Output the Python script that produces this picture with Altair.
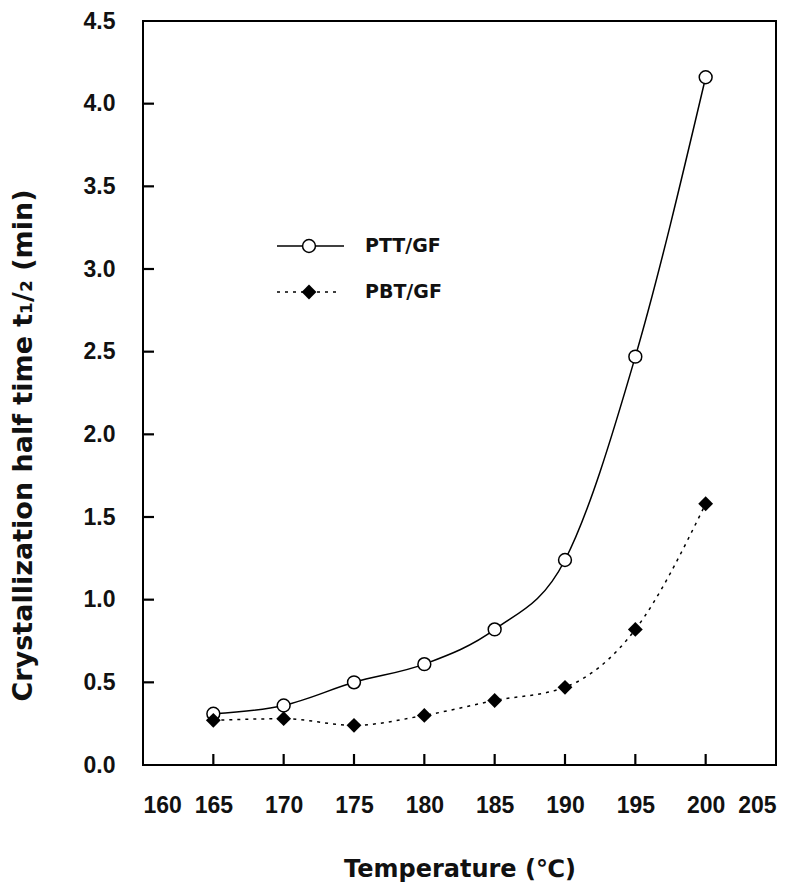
import altair as alt
import pandas as pd

# ---- data ----
temps = [165, 170, 175, 180, 185, 190, 195, 200]
ptt_gf = [0.31, 0.36, 0.50, 0.61, 0.82, 1.24, 2.47, 4.16]
pbt_gf = [0.27, 0.28, 0.24, 0.30, 0.39, 0.47, 0.82, 1.58]
series_names = ["PTT/GF", "PBT/GF"]
x_tick_values = [160, 165, 170, 175, 180, 185, 190, 195, 200, 205]
y_tick_values = [0.0, 0.5, 1.0, 1.5, 2.0, 2.5, 3.0, 3.5, 4.0, 4.5]
x_inner_ticks = [165, 170, 175, 180, 185, 190, 195, 200]
y_inner_ticks = [0.5, 1.0, 1.5, 2.0, 2.5, 3.0, 3.5, 4.0]

df_ptt = pd.DataFrame({"T": temps, "t": ptt_gf})
df_pbt = pd.DataFrame({"T": temps, "t": pbt_gf})
df_xt = pd.DataFrame({"xt": x_inner_ticks})
df_yt = pd.DataFrame({"yt": y_inner_ticks})
df_leg_ptt = pd.DataFrame({"name": [series_names[0]]})
df_leg_pbt = pd.DataFrame({"name": [series_names[1]]})

W, H = 633, 744
TICK_LEN = 11
LABEL_FONT = "Liberation Sans"
TITLE_FONT = "DejaVu Sans"

xscale = alt.Scale(domain=[160, 205], nice=False, zero=False)
yscale = alt.Scale(domain=[0, 4.5], nice=False)

xaxis = alt.Axis(
    values=x_tick_values, format="d", grid=False, domain=False, ticks=False, tickSize=0,
    labelFont=LABEL_FONT, labelFontSize=23, labelFontWeight="bold", labelColor="#111",
    labelPadding=29, title="Temperature (\u2103)", titleFont=TITLE_FONT, titleFontSize=24,
    titleFontWeight="bold", titleColor="#111", titlePadding=40,
)
yaxis = alt.Axis(
    values=y_tick_values, format=".1f", grid=False, domain=False, ticks=False, tickSize=0,
    labelFont=LABEL_FONT, labelFontSize=23, labelFontWeight="bold", labelColor="#111",
    labelPadding=28, title="Crystallization half time t\u2081/\u2082 (min)",
    titleFont=TITLE_FONT, titleFontSize=27, titleFontWeight="bold", titleColor="#111",
    titleX=-106, titleY=424, titleAlign="center", titleAngle=-90, titleBaseline="bottom",
)

ptt_line = alt.Chart(df_ptt).mark_line(color="black", strokeWidth=1.5, interpolate="monotone").encode(
    x=alt.X("T:Q", scale=xscale, axis=xaxis), y=alt.Y("t:Q", scale=yscale, axis=yaxis))
pbt_line = alt.Chart(df_pbt).mark_line(color="black", strokeWidth=1.5, strokeDash=[3, 5],
                                       interpolate="monotone").encode(
    x=alt.X("T:Q", scale=xscale), y=alt.Y("t:Q", scale=yscale))

# inward ticks: bottom edge (x ticks) and left edge (y ticks)
xticks = alt.Chart(df_xt).mark_rule(color="black", strokeWidth=2.2).encode(
    x=alt.X("xt:Q", scale=xscale),
    y=alt.value(H - TICK_LEN),
    y2=alt.value(H),
)
yticks = alt.Chart(df_yt).mark_rule(color="black", strokeWidth=2.2).encode(
    y=alt.Y("yt:Q", scale=yscale),
    x=alt.value(0),
    x2=alt.value(TICK_LEN),
)

ptt_pts = alt.Chart(df_ptt).mark_point(shape="circle", filled=True, fill="white", stroke="black",
                                       strokeWidth=1.5, size=165, opacity=1).encode(
    x=alt.X("T:Q", scale=xscale), y=alt.Y("t:Q", scale=yscale))
pbt_pts = alt.Chart(df_pbt).mark_point(shape="diamond", filled=True, color="black", size=220,
                                       opacity=1).encode(
    x=alt.X("T:Q", scale=xscale), y=alt.Y("t:Q", scale=yscale))

# legend (drawn inside the plot)
leg1_line = alt.Chart(df_leg_ptt).mark_rule(color="black", strokeWidth=1.5).encode(
    x=alt.value(134), x2=alt.value(201), y=alt.value(225))
leg1_pt = alt.Chart(df_leg_ptt).mark_point(shape="circle", filled=True, fill="white", stroke="black",
                                           strokeWidth=1.5, size=165, opacity=1).encode(
    x=alt.value(166), y=alt.value(225))
leg1_txt = alt.Chart(df_leg_ptt).mark_text(align="left", baseline="middle", font=TITLE_FONT,
                                           fontSize=19, fontWeight="bold", color="#111").encode(
    x=alt.value(222), y=alt.value(225), text="name:N")

leg2_line = alt.Chart(df_leg_pbt).mark_rule(color="black", strokeWidth=1.5, strokeDash=[3, 5]).encode(
    x=alt.value(134), x2=alt.value(196), y=alt.value(271))
leg2_pt = alt.Chart(df_leg_pbt).mark_point(shape="diamond", filled=True, color="black", size=220,
                                           opacity=1).encode(
    x=alt.value(166), y=alt.value(271))
leg2_txt = alt.Chart(df_leg_pbt).mark_text(align="left", baseline="middle", font=TITLE_FONT,
                                           fontSize=19, fontWeight="bold", color="#111").encode(
    x=alt.value(222), y=alt.value(271), text="name:N")

chart = alt.layer(
    ptt_line, pbt_line, xticks, yticks, ptt_pts, pbt_pts,
    leg1_line, leg1_pt, leg1_txt, leg2_line, leg2_pt, leg2_txt,
).properties(
    width=W, height=H,
    autosize=alt.AutoSizeParams(type="none"),
    padding={"left": 135, "top": 13, "right": 9, "bottom": 121},
    background="white",
).configure_view(
    stroke="black", strokeWidth=2,
)

chart.save("out.html", embed_options={"renderer": "svg", "actions": False})
